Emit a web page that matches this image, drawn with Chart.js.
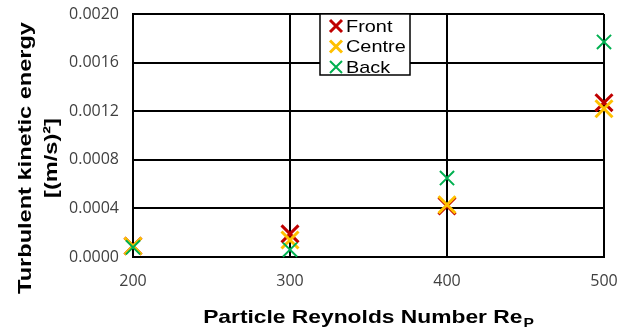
<!DOCTYPE html>
<html>
<head>
<meta charset="utf-8">
<script src="https://cdn.jsdelivr.net/npm/chart.js@4"></script>
<style>
  html, body { margin: 0; padding: 0; background: #fff; }
  #wrap { width: 625px; height: 329px; }
</style>
</head>
<body>
<div id="wrap"><canvas id="tke"></canvas></div>
<script>
const reynolds = [200, 300, 400, 500];
const front = [0.00009, 0.00019, 0.00042, 0.00127];
const centre = [0.00009, 0.00014, 0.00043, 0.00122];
const back = [0.00008, 0.00006, 0.00065, 0.00177];
const yTicks = [0, 0.0004, 0.0008, 0.0012, 0.0016, 0.002];

const seriesNames = ["Front", "Centre", "Back"];
const seriesColors = ["#C00000", "#FFC000", "#00B050"];

const boldFont = "'Liberation Sans', Arial, sans-serif";

function toPoints(vals) {
  return reynolds.map((x, i) => ({ x: x, y: vals[i] }));
}

// text in the reference is a bit wider than it is tall, so stretch it
function wideText(ctx, text, x, y, sx) {
  ctx.save();
  ctx.translate(x, y);
  ctx.scale(sx, 1);
  ctx.fillText(text, 0, 0);
  ctx.restore();
}

// axis titles and legend box drawn by hand (subscript + boxed legend)
const extras = {
  id: "extras",
  afterDraw(chart) {
    const ctx = chart.ctx;
    const area = chart.chartArea;
    const sx = 1.2;
    ctx.save();
    ctx.fillStyle = "#000";

    // x title with subscript P
    ctx.font = "bold 19px " + boldFont;
    const main = "Particle Reynolds Number Re";
    const wMain = ctx.measureText(main).width * sx;
    ctx.font = "bold 13px " + boldFont;
    const wSub = ctx.measureText("P").width * sx;
    const mid = (area.left + area.right) / 2;
    const startX = mid - (wMain + wSub + 1) / 2;
    ctx.textBaseline = "alphabetic";
    ctx.textAlign = "left";
    ctx.font = "bold 19px " + boldFont;
    wideText(ctx, main, startX, 323, sx);
    ctx.font = "bold 13px " + boldFont;
    wideText(ctx, "P", startX + wMain + 1, 327, sx);

    // y title, two lines
    ctx.translate(0, 158);
    ctx.rotate(-Math.PI / 2);
    ctx.textAlign = "center";
    ctx.textBaseline = "middle";
    ctx.font = "bold 19px " + boldFont;
    ctx.save();
    ctx.scale(1.24, 1);
    ctx.fillText("Turbulent kinetic energy", 0, 26);
    ctx.fillText("[(m/s)\u00B2]", 0, 52);
    ctx.restore();
    ctx.restore();

    // legend box
    ctx.save();
    const lx = 320, ly = 14, lw = 90, lh = 61;
    ctx.fillStyle = "#fff";
    ctx.fillRect(lx, ly, lw, lh);
    ctx.strokeStyle = "#000";
    ctx.lineWidth = 1.5;
    ctx.strokeRect(lx, ly, lw, lh);
    ctx.font = "17px " + boldFont;
    ctx.textBaseline = "middle";
    ctx.textAlign = "left";
    seriesNames.forEach((name, i) => {
      const cy = ly + 12 + i * 20.5;
      const cx = lx + 16;
      ctx.strokeStyle = seriesColors[i];
      ctx.lineWidth = i < 2 ? 3 : 2;
      ctx.beginPath();
      ctx.moveTo(cx - 6, cy - 6); ctx.lineTo(cx + 6, cy + 6);
      ctx.moveTo(cx + 6, cy - 6); ctx.lineTo(cx - 6, cy + 6);
      ctx.stroke();
      ctx.fillStyle = "#000";
      wideText(ctx, name, lx + 26, cy + 1, 1.17);
    });
    ctx.restore();
  }
};

new Chart("tke", {
  type: "scatter",
  data: {
    datasets: [
      {
        label: "Front",
        data: toPoints(front),
        pointStyle: "crossRot",
        pointRadius: 12,
        pointBorderWidth: 3,
        borderColor: seriesColors[0],
        backgroundColor: seriesColors[0],
        order: 3
      },
      {
        label: "Centre",
        data: toPoints(centre),
        pointStyle: "crossRot",
        pointRadius: 12,
        pointBorderWidth: 3,
        borderColor: seriesColors[1],
        backgroundColor: seriesColors[1],
        order: 2
      },
      {
        label: "Back",
        data: toPoints(back),
        pointStyle: "crossRot",
        pointRadius: 10,
        pointBorderWidth: 2,
        borderColor: seriesColors[2],
        backgroundColor: seriesColors[2],
        order: 1
      }
    ]
  },
  options: {
    responsive: true,
    maintainAspectRatio: false,
    animation: false,
    clip: false,
    layout: { autoPadding: false, padding: { top: 14, right: 21, left: 0, bottom: 0 } },
    plugins: {
      legend: { display: false },
      tooltip: { enabled: false }
    },
    scales: {
      x: {
        type: "linear",
        min: 200,
        max: 500,
        afterBuildTicks(scale) {
          scale.ticks = reynolds.map(v => ({ value: v }));
        },
        afterFit(scale) {
          scale.height = 72;
          scale.paddingLeft = 0;
          scale.paddingRight = 0;
        },
        grid: { color: "#000", lineWidth: 2, drawTicks: false },
        border: { color: "#000", width: 2 },
        ticks: {
          color: "#404040",
          padding: 15,
          maxRotation: 0,
          font: { family: "'Open Sans', sans-serif", size: 16 }
        }
      },
      y: {
        min: 0,
        max: 0.002,
        afterBuildTicks(scale) {
          scale.ticks = yTicks.map(v => ({ value: v }));
        },
        afterFit(scale) {
          scale.width = 133;
          scale.paddingTop = 0;
          scale.paddingBottom = 0;
        },
        grid: { color: "#000", lineWidth: 2, drawTicks: false },
        border: { color: "#000", width: 2 },
        ticks: {
          color: "#404040",
          padding: 14,
          font: { family: "'Open Sans', sans-serif", size: 16 },
          callback: v => v.toFixed(4)
        }
      }
    }
  },
  plugins: [extras]
});
</script>
</body>
</html>
